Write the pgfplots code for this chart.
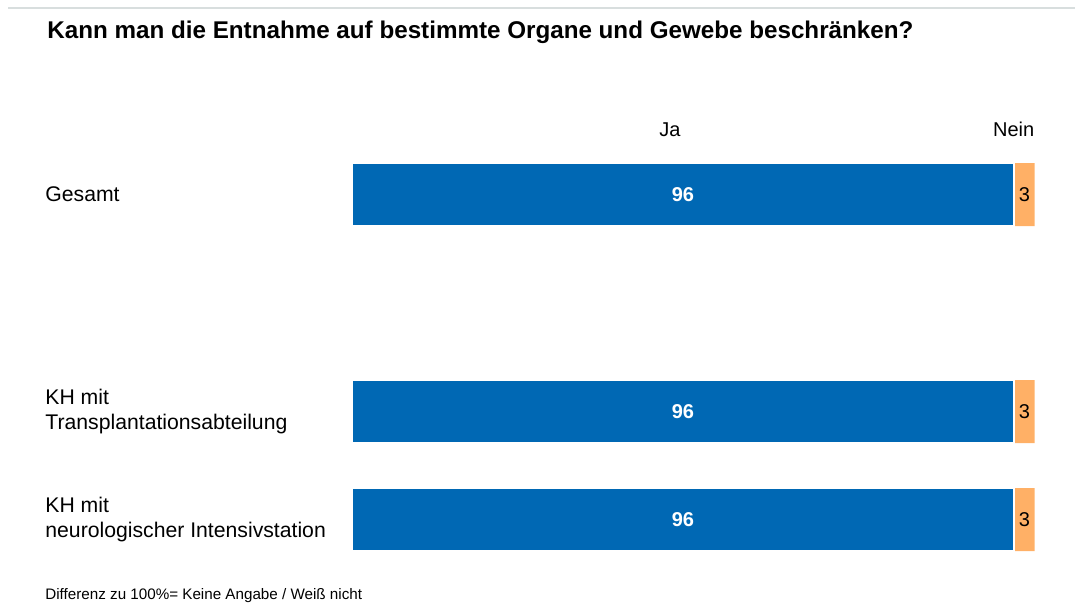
\documentclass[border=0pt]{standalone}
\usepackage{pgfplots}
\pgfplotsset{compat=1.18}
\usepackage{fontspec}
\setmainfont{Liberation Sans}
\definecolor{barblue}{RGB}{0,104,180}
\definecolor{barorange}{RGB}{255,176,102}
\definecolor{linegray}{RGB}{216,222,222}
\begin{document}
\begin{tikzpicture}
\useasboundingbox (0,0) rectangle (537.5pt,-301pt);
\draw[linegray, line width=1.2pt] (4pt,-4pt) -- (537.5pt,-4pt);
\node[anchor=base west, inner sep=0, font=\bfseries\fontsize{12.1}{14}\selectfont] at (23.5pt,-19pt) {Kann man die Entnahme auf bestimmte Organe und Gewebe beschränken?};
\node[anchor=base west, inner sep=0, font=\fontsize{7.6}{9}\selectfont] at (22.5pt,-299.5pt) {Differenz zu 100\%= Keine Angabe / Weiß nicht};
\begin{axis}[
  at={(176pt,0pt)}, anchor=north west,
  scale only axis, width=341.35pt, height=301pt,
  xmin=0, xmax=99, ymin=0, ymax=602, y dir=reverse,
  axis line style={draw=none}, tick style={draw=none},
  xtick=\empty,
  ytick={194.5,411.5,519.5},
  yticklabels={Gesamt,{KH mit\\Transplantationsabteilung},{KH mit\\neurologischer Intensivstation}},
  yticklabel style={align=left, anchor=west, inner sep=0pt, xshift=-153.5pt, font=\fontsize{10.6}{12.5}\selectfont},
  bar width=31.5pt,
  clip=false,
]
\addplot[xbar, bar shift=0pt, fill=barorange, draw=none] coordinates {(99,194.5) (99,411.5) (99,519.5)};
\addplot[xbar, bar shift=0pt, fill=barblue, draw=white, line width=0.6pt] coordinates {(96,194.5) (96,411.5) (96,519.5)};
\addplot[only marks, mark=none, nodes near coords, point meta=explicit symbolic,
  every node near coord/.append style={anchor=center, inner sep=0pt, text=white, font=\bfseries\fontsize{10}{12}\selectfont}]
  coordinates {(48,194.5)[96] (48,411.5)[96] (48,519.5)[96]};
\addplot[only marks, mark=none, nodes near coords, point meta=explicit symbolic,
  every node near coord/.append style={anchor=center, inner sep=0pt, text=black, font=\fontsize{10}{12}\selectfont}]
  coordinates {(97.5,194.5)[3] (97.5,411.5)[3] (97.5,519.5)[3]};
\node[anchor=base, inner sep=0, font=\fontsize{10}{12}\selectfont] at (axis cs:46.1,136) {Ja};
\node[anchor=base east, inner sep=0, font=\fontsize{10}{12}\selectfont] at (axis cs:99,136) {Nein};
\end{axis}
\end{tikzpicture}
\end{document}
